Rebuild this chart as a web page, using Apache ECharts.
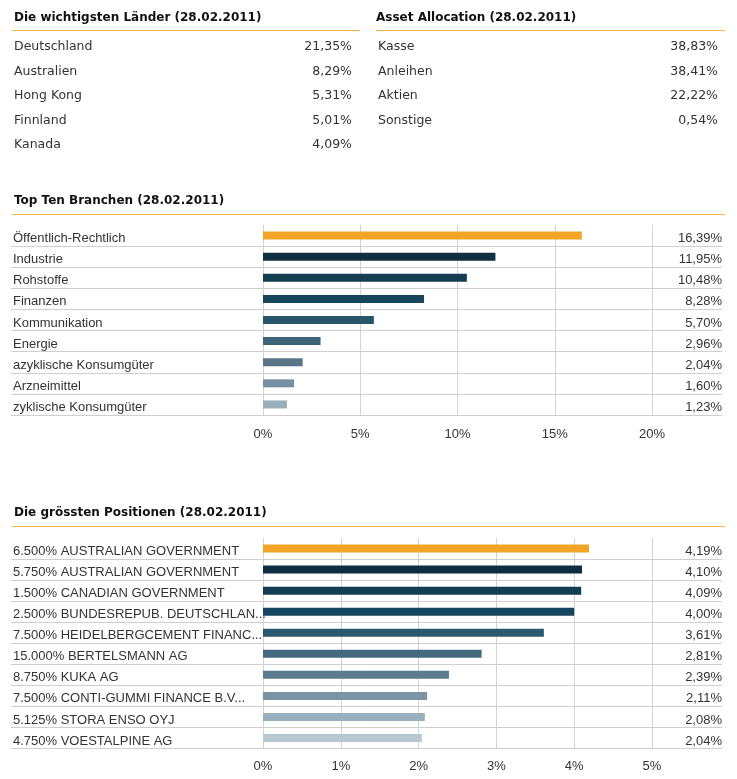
<!DOCTYPE html>
<html><head><meta charset="utf-8">
<script src="https://cdn.jsdelivr.net/npm/echarts@6/dist/echarts.min.js"></script>
<style>html,body{margin:0;padding:0;background:#fff}#c{width:737px;height:779px}</style>
</head><body><div id="c"></div>
<script>
// ---- data ----
const countryTitle = 'Die wichtigsten Länder (28.02.2011)';
const countryNames = ['Deutschland', 'Australien', 'Hong Kong', 'Finnland', 'Kanada'];
const countryValues = [21.35, 8.29, 5.31, 5.01, 4.09];

const assetTitle = 'Asset Allocation (28.02.2011)';
const assetNames = ['Kasse', 'Anleihen', 'Aktien', 'Sonstige'];
const assetValues = [38.83, 38.41, 22.22, 0.54];

const branchTitle = 'Top Ten Branchen (28.02.2011)';
const branchNames = ['Öffentlich-Rechtlich', 'Industrie', 'Rohstoffe', 'Finanzen', 'Kommunikation',
  'Energie', 'azyklische Konsumgüter', 'Arzneimittel', 'zyklische Konsumgüter'];
const branchValues = [16.39, 11.95, 10.48, 8.28, 5.70, 2.96, 2.04, 1.60, 1.23];
const branchAxis = { min: 0, max: 20, interval: 5 };

const positionTitle = 'Die grössten Positionen (28.02.2011)';
const positionNames = ['6.500% AUSTRALIAN GOVERNMENT', '5.750% AUSTRALIAN GOVERNMENT',
  '1.500% CANADIAN GOVERNMENT', '2.500% BUNDESREPUB. DEUTSCHLAN...', '7.500% HEIDELBERGCEMENT FINANC...',
  '15.000% BERTELSMANN AG', '8.750% KUKA AG', '7.500% CONTI-GUMMI FINANCE B.V...',
  '5.125% STORA ENSO OYJ', '4.750% VOESTALPINE AG'];
const positionValues = [4.19, 4.10, 4.09, 4.00, 3.61, 2.81, 2.39, 2.11, 2.08, 2.04];
const positionAxis = { min: 0, max: 5, interval: 1 };

// ---- styles ----
const branchColors = ['#f2a623', '#10303f', '#143d50', '#17455b', '#285669', '#3f6376', '#587688', '#7590a0', '#9aaebb'];
const positionColors = ['#f2a623', '#0f2d40', '#123d52', '#164560', '#2a5a70', '#456a80', '#5c7b8c', '#7a94a4', '#9aafbd', '#b8c8d2'];
const ORANGE = '#efb44a';
const TXT = '#333';
const SEP = '#cfcfcf';
const fmt = v => v.toFixed(2).replace('.', ',') + '%';

const chart = echarts.init(document.getElementById('c'), null, { renderer: 'canvas' });

// ---- graphic: titles, lines, top tables ----
const graphic = [];
let gid = 0;
function title(text, x, y) {
  graphic.push({ id: 'g' + (gid++), type: 'text', z: 100, style: { text, x, y, font: 'bold 12px "DejaVu Sans"', fill: '#111',
    textVerticalAlign: 'middle', verticalAlign: 'middle' } });
}
function hline(x1, x2, y) {
  graphic.push({ id: 'g' + (gid++), type: 'rect', zlevel: 2, z: 100, shape: { x: x1, y: y, width: x2 - x1, height: 1 },
    style: { fill: ORANGE, stroke: null } });
}
function table(names, values, xl, xr, y0, step) {
  names.forEach((n, i) => {
    const y = y0 + i * step;
    graphic.push({ id: 'g' + (gid++), type: 'text', z: 100, style: { text: n, x: xl, y, font: '12.5px "DejaVu Sans"', fill: TXT,
      textVerticalAlign: 'middle', verticalAlign: 'middle' } });
    graphic.push({ id: 'g' + (gid++), type: 'text', z: 100, style: { text: fmt(values[i]), x: xr, y, font: '12.5px "DejaVu Sans"', fill: TXT,
      textAlign: 'right', align: 'right', textVerticalAlign: 'middle', verticalAlign: 'middle' } });
  });
}
title(countryTitle, 14, 18);
hline(12, 360, 30);
table(countryNames, countryValues, 14, 352, 47, 24.5);
title(assetTitle, 376, 18);
hline(376, 725, 30);
table(assetNames, assetValues, 378, 718, 47, 24.5);
title(branchTitle, 14, 201);
hline(12, 725, 214);
title(positionTitle, 14, 513);
hline(12, 725, 526);

// ---- grids ----
const BR = { top: 225, height: 190 };
const PO = { top: 538, height: 210.5 };
const grid = [
  { left: 11, right: 15, top: BR.top, height: BR.height },
  { left: 263, right: 85, top: BR.top, height: BR.height },
  { left: 11, right: 15, top: PO.top, height: PO.height },
  { left: 263, right: 85, top: PO.top, height: PO.height }
];

const labelRich = { t: { padding: [6, 0, 0, 0], color: TXT, fontSize: 13, fontFamily: 'Liberation Sans' } };
function bgAxes(names, values, gi) {
  // first boundary line (top) invisible, others grey
  const lineColors = names.map(() => SEP);
  lineColors.unshift('rgba(0,0,0,0)');
  return {
    y: [
      { gridIndex: gi, type: 'category', inverse: true, data: names, position: 'left',
        axisLine: { show: false }, axisTick: { show: false },
        axisLabel: { inside: true, margin: 2, formatter: v => '{t|' + v + '}', rich: labelRich },
        splitLine: { show: true, lineStyle: { color: lineColors, width: 1 } } },
      { gridIndex: gi, type: 'category', inverse: true, data: values.map(fmt), position: 'right',
        axisLine: { show: false }, axisTick: { show: false },
        axisLabel: { inside: true, margin: 0, formatter: v => '{t|' + v + '}', rich: labelRich },
        splitLine: { show: false } }
    ],
    x: { gridIndex: gi, type: 'value', show: false, splitLine: { show: false }, axisLine: { show: false } }
  };
}
function barAxes(names, ax, gi, margin) {
  return {
    y: { gridIndex: gi, type: 'category', inverse: true, data: names, show: false },
    x: { gridIndex: gi, type: 'value', min: ax.min, max: ax.max, interval: ax.interval,
      axisLine: { show: false }, axisTick: { show: false },
      axisLabel: { formatter: '{value}%', color: TXT, fontSize: 13, fontFamily: 'Liberation Sans', margin },
      splitLine: { show: true, lineStyle: { color: '#d3d3d3', width: 1 } } }
  };
}
const b0 = bgAxes(branchNames, branchValues, 0);
const b1 = barAxes(branchNames, branchAxis, 1, 13);
const p0 = bgAxes(positionNames, positionValues, 2);
const p1 = barAxes(positionNames, positionAxis, 3, 11);

const xAxis = [b0.x, b1.x, p0.x, p1.x];
const yAxis = [b0.y[0], b0.y[1], b1.y, p0.y[0], p0.y[1], p1.y];

const series = [
  { type: 'bar', xAxisIndex: 1, yAxisIndex: 2, barWidth: 8, silent: true,
    data: branchValues.map((v, i) => ({ value: v, itemStyle: { color: branchColors[i] } })) },
  { type: 'bar', xAxisIndex: 3, yAxisIndex: 5, barWidth: 8, silent: true,
    data: positionValues.map((v, i) => ({ value: v, itemStyle: { color: positionColors[i] } })) }
];

chart.setOption({
  animation: false,
  backgroundColor: '#fff',
  textStyle: { fontFamily: 'Liberation Sans' },
  grid, xAxis, yAxis, series, graphic
});
</script></body></html>
